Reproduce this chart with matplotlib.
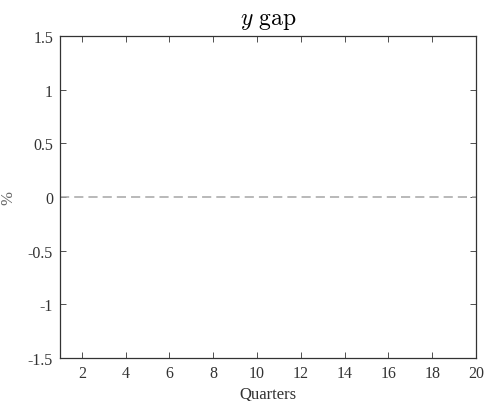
import matplotlib
matplotlib.use('Agg')
import matplotlib.pyplot as plt

# data
quarters = list(range(1, 21))
zero_line = [0.0] * 20
yticks = [-1.5, -1, -0.5, 0, 0.5, 1, 1.5]
ytick_labels = ['-1.5', '-1', '-0.5', '0', '0.5', '1', '1.5']
xticks = [2, 4, 6, 8, 10, 12, 14, 16, 18, 20]

plt.rcParams['font.family'] = ['Liberation Serif', 'DejaVu Serif']
plt.rcParams['mathtext.fontset'] = 'cm'

fig = plt.figure(figsize=(4.86, 4.02), dpi=100)
ax = fig.add_axes([60 / 486, 43 / 402, 416 / 486, 322 / 402])

ax.plot(quarters, zero_line, color='#a6a6a6', lw=1.1, ls=(0, (6, 3.3)))

ax.set_xlim(1, 20)
ax.set_ylim(-1.5, 1.5)
ax.set_xticks(xticks)
ax.set_yticks(yticks)
ax.set_yticklabels(ytick_labels)
ax.tick_params(direction='in', top=True, right=True, labelsize=11.5, length=4,
               width=0.6, colors='#333333', pad=5)
for s in ax.spines.values():
    s.set_linewidth(0.9)
    s.set_color('#333333')

ax.set_title(r'$y\ \mathrm{gap}$', fontsize=17, pad=9)
ax.set_xlabel('Quarters', fontsize=12, labelpad=3, color='#333333')
ax.set_ylabel('%', fontsize=12, color='#666666')
ax.yaxis.set_label_coords(-0.105, 0.5)

fig.savefig('out.png', dpi=100)
